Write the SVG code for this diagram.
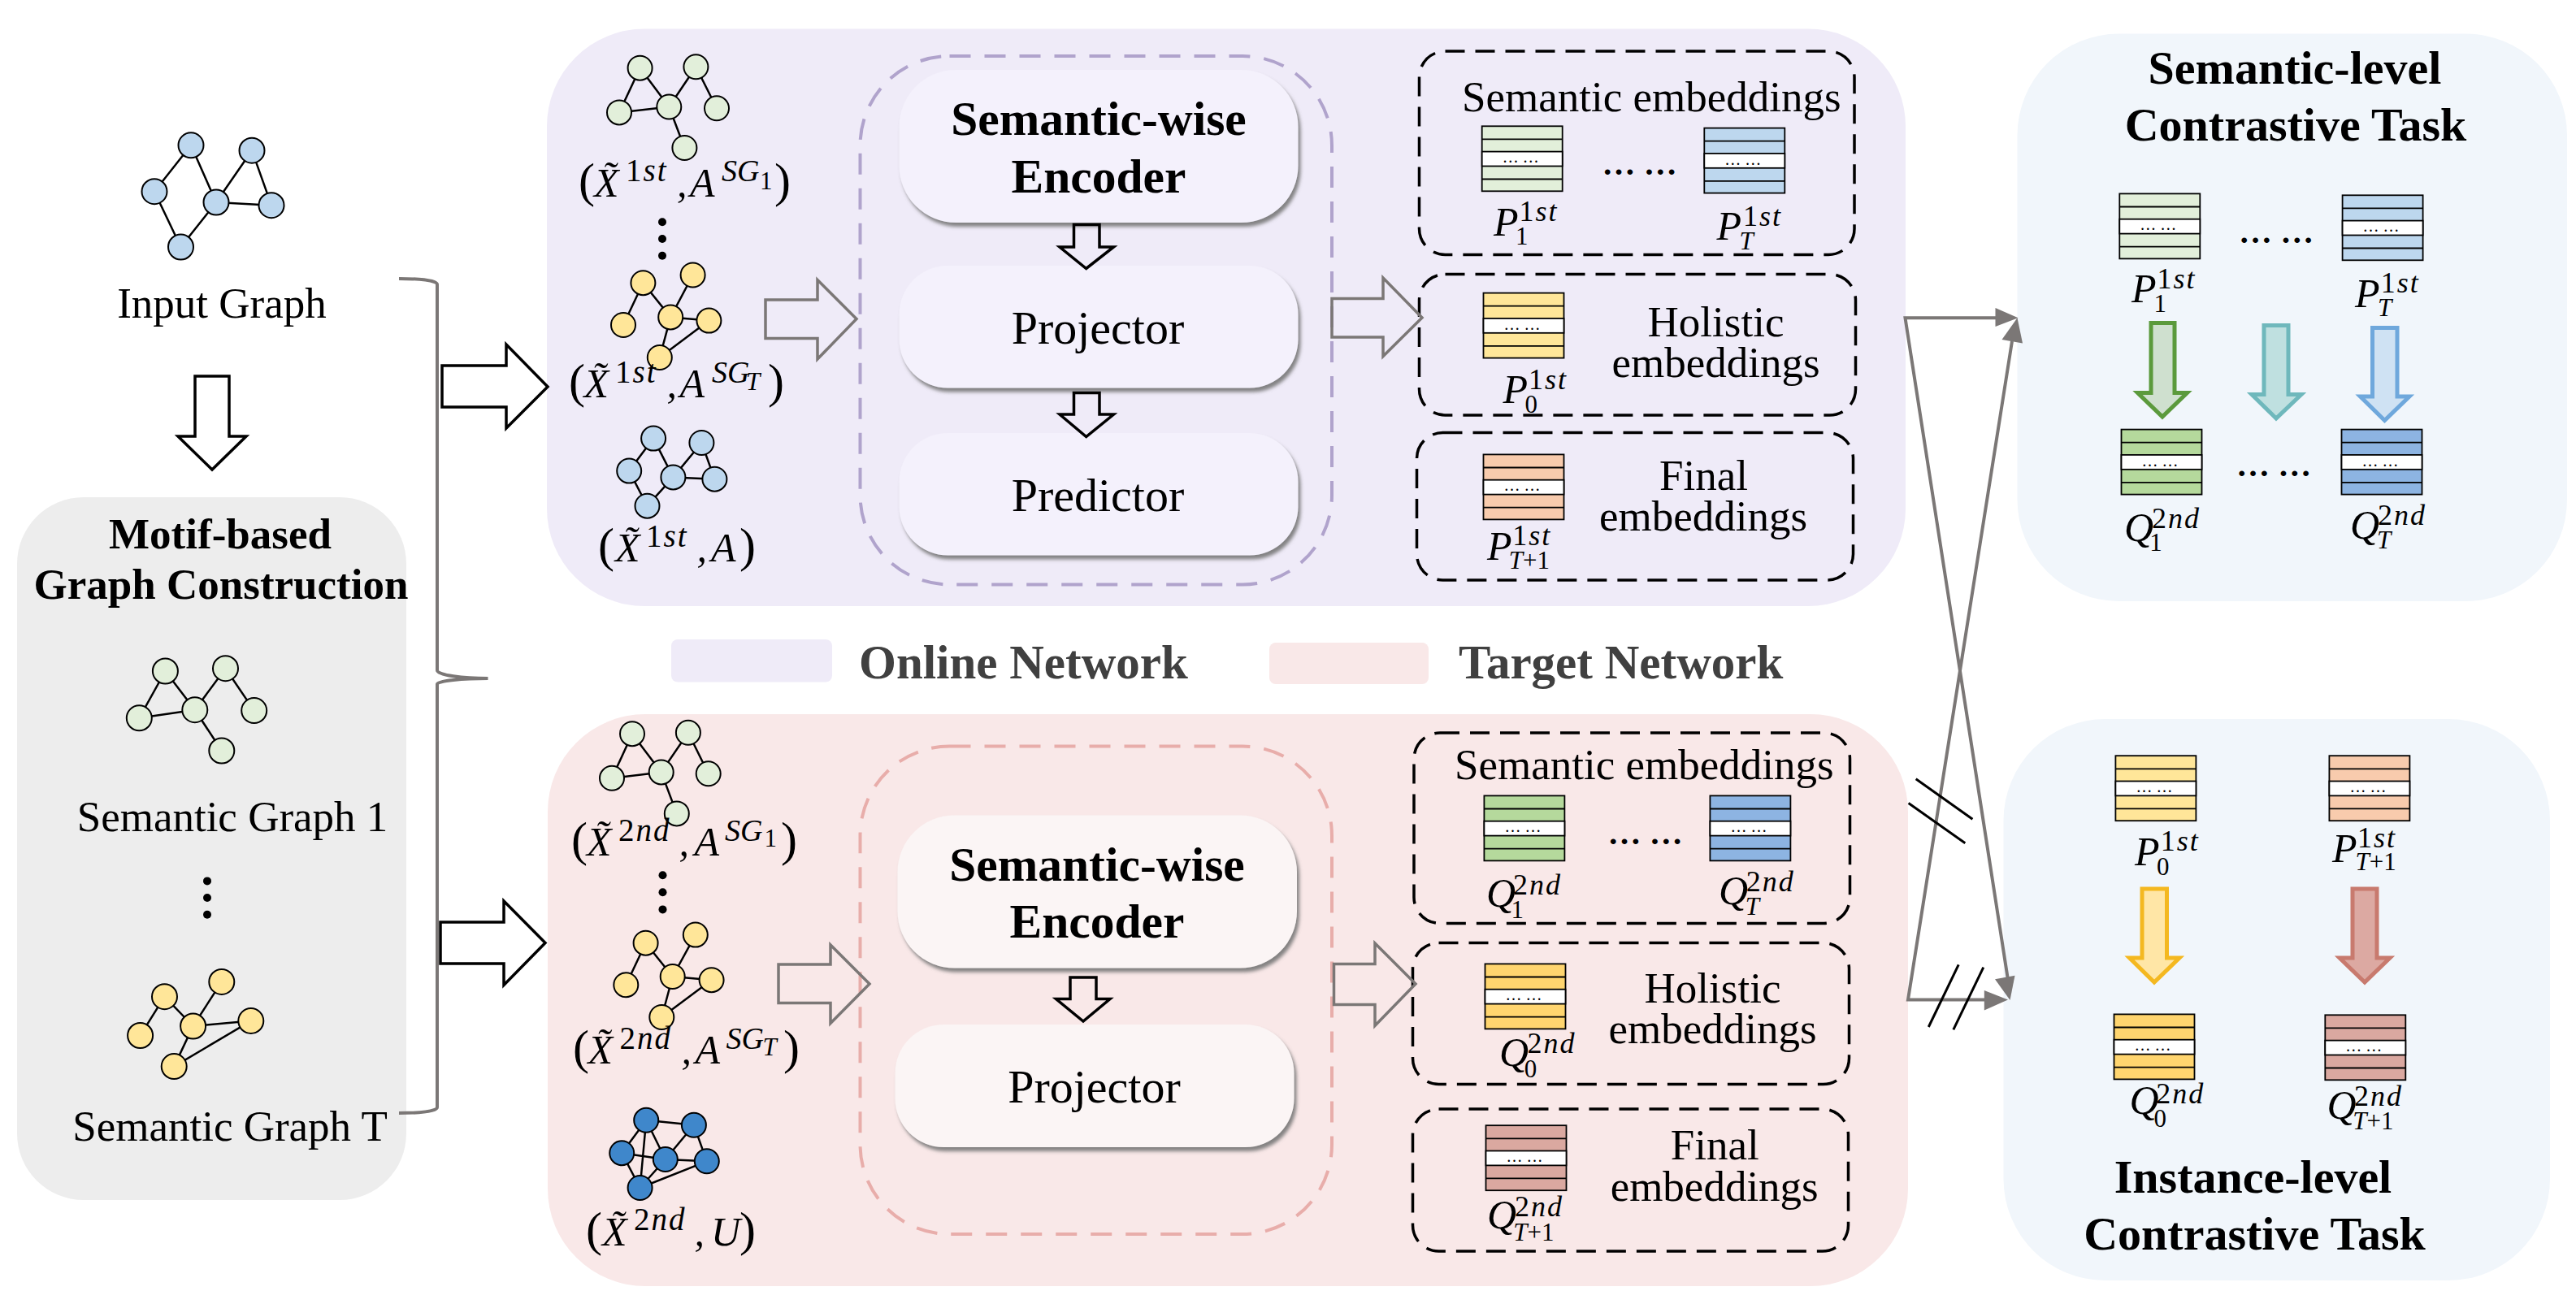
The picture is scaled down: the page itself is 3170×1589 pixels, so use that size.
<svg xmlns="http://www.w3.org/2000/svg" xmlns:xlink="http://www.w3.org/1999/xlink" width="3170" height="1589" viewBox="0 0 3170 1589">
<style>
text{font-family:"Liberation Serif","Times New Roman",serif;fill:#000}
.t{font-size:53px}
.c{text-anchor:middle}
.b{font-weight:700}
.h{font-size:59.5px}
.p{font-size:58px}
.leg{font-size:59px;font-weight:700;fill:#404040}
.m{font-size:50px;font-style:italic}
.par{font-size:60px;font-style:normal}
.sl{font-size:39px;letter-spacing:2px}
.sg{font-size:38px}
.sp{font-size:36px;letter-spacing:2px}
.sb{font-size:31px}
.u{font-style:normal}
.dots{font-size:41px;font-weight:700}
.edge{fill:none;stroke:#000;stroke-width:2.5}
.n{stroke:#000;stroke-width:2}
.gg{fill:#e2efda}.gb{fill:#bdd7ee}.gy{fill:#ffe699}.gd{fill:#3f87cb}
.dash-k{fill:none;stroke:#000;stroke-width:3.5;stroke-dasharray:24 13}
.dash-v{fill:none;stroke:#b0a3cc;stroke-width:4;stroke-dasharray:26 17}
.dash-r{fill:none;stroke:#e8adaa;stroke-width:4;stroke-dasharray:26 17}
.wa{fill:#fff;stroke:#000;stroke-width:3.5}
.ha{fill:none;stroke:#000;stroke-width:3.5}
.ga{fill:none;stroke:#7b7776;stroke-width:3.5}
.conn{fill:none;stroke:#7b7776;stroke-width:4}
.head{fill:#7b7776;stroke:none}
.bar{stroke:#000;stroke-width:3;fill:none}
.mx rect,.mx path{stroke:#000;stroke-width:1.8}
.mw{fill:#fff}
.mt{font-size:20px}
</style>
<defs>
<filter id="lift" x="-5%" y="-5%" width="112%" height="115%">
<feDropShadow dx="3" dy="5" stdDeviation="2" flood-color="#777" flood-opacity="0.9"/>
</filter>
<!-- embedding matrix: five rows, the middle one elided -->
<g id="mx" class="mx">
<rect width="99" height="80"/>
<rect class="mw" y="31.3" width="99" height="17.9"/>
<path d="M0 16.1H99M0 65.2H99" fill="none"/>
<text class="mt" x="25" y="45">… …</text>
</g>
</defs>

<rect width="3170" height="1589" fill="#fff"/>

<!-- coloured panels -->
<g id="panels">
<rect id="panel-motif" x="21" y="612" width="479" height="865" rx="82" fill="#ededed"/>
<rect id="panel-online" x="673" y="35.5" width="1672" height="710.5" rx="120" fill="#efebf8"/>
<rect id="panel-target" x="674" y="879" width="1674" height="704" rx="120" fill="#f9e8e8"/>
<rect id="panel-semantic" x="2482.5" y="41.5" width="676.5" height="698.5" rx="125" fill="#f1f6fb"/>
<rect id="panel-instance" x="2465.5" y="885" width="672.5" height="691" rx="125" fill="#f1f6fb"/>
</g>

<g id="input-graph">
<path class="edge" d="M235 178.8L190 235.7M235 178.8L266 249M310 185.2L266 249M310 185.2L334 252.7M266 249L334 252.7M190 235.7L222.5 304M266 249L222.5 304"/>
<g class="n gb"><circle cx="235" cy="178.8" r="15.5"/><circle cx="310" cy="185.2" r="15.5"/><circle cx="190" cy="235.7" r="15.5"/><circle cx="266" cy="249" r="15.5"/><circle cx="334" cy="252.7" r="15.5"/><circle cx="222.5" cy="304" r="15.5"/></g>
<text class="t c" x="273" y="391">Input Graph</text>
</g>

<g id="motif-construction">
<text class="t b c" x="271" y="674.5">Motif-based</text>
<text class="t b c" x="272" y="736.5">Graph Construction</text>
<path class="edge" d="M203.4 826L171.3 883.8M203.4 826L239.8 873.7M171.3 883.8L239.8 873.7M277.5 822.7L239.8 873.7M277.5 822.7L312.7 874.6M239.8 873.7L272.8 924"/>
<g class="n gg"><circle cx="203.4" cy="826" r="15.5"/><circle cx="277.5" cy="822.7" r="15.5"/><circle cx="171.3" cy="883.8" r="15.5"/><circle cx="239.8" cy="873.7" r="15.5"/><circle cx="312.7" cy="874.6" r="15.5"/><circle cx="272.8" cy="924" r="15.5"/></g>
<text class="t c" x="286" y="1022.5">Semantic Graph 1</text>
<g fill="#000"><circle cx="255" cy="1084.4" r="5"/><circle cx="255" cy="1105" r="5"/><circle cx="255" cy="1125.7" r="5"/></g>
<path class="edge" d="M202.5 1226.7L172.6 1274.5M202.5 1226.7L237.6 1263M272.8 1208.4L237.6 1263M237.6 1263L308.8 1256.6M237.6 1263L214.2 1312.6M214.2 1312.6L308.8 1256.6"/>
<g class="n gy"><circle cx="202.5" cy="1226.7" r="15.5"/><circle cx="272.8" cy="1208.4" r="15.5"/><circle cx="172.6" cy="1274.5" r="15.5"/><circle cx="237.6" cy="1263" r="15.5"/><circle cx="308.8" cy="1256.6" r="15.5"/><circle cx="214.2" cy="1312.6" r="15.5"/></g>
<text class="t c" x="283" y="1403.5">Semantic Graph T</text>
</g>

<!-- online branch -->
<g id="online-views">
<path class="edge" d="M787.6 83.7L762 138.4M787.6 83.7L823.3 131.5M762 138.4L823.3 131.5M856.4 82.3L823.3 131.5M856.4 82.3L882 133.3M823.3 131.5L842.4 182"/>
<g class="n gg"><circle cx="787.6" cy="83.7" r="15"/><circle cx="856.4" cy="82.3" r="15"/><circle cx="762" cy="138.4" r="15"/><circle cx="823.3" cy="131.5" r="15"/><circle cx="882" cy="133.3" r="15"/><circle cx="842.4" cy="182" r="15"/></g>
<text class="m"><tspan class="par" x="712" y="242">(</tspan><tspan x="731" y="242">X̃</tspan><tspan class="sl" x="770" y="223"><tspan class="u">1</tspan>st</tspan><tspan x="833" y="242">,</tspan><tspan x="849" y="242">A</tspan><tspan class="sg" x="888" y="223">SG</tspan><tspan class="sb u" x="935" y="233">1</tspan><tspan class="par" x="953" y="242">)</tspan></text>
<g fill="#000"><circle cx="815" cy="273.3" r="5"/><circle cx="815" cy="294" r="5"/><circle cx="815" cy="314.7" r="5"/></g>
<path class="edge" d="M791.4 348.2L767 400M791.4 348.2L825.2 390.4M852.6 338.5L825.2 390.4M825.2 390.4L872.4 394.6M825.2 390.4L811.8 440M811.8 440L872.4 394.6"/>
<g class="n gy"><circle cx="791.4" cy="348.2" r="15"/><circle cx="852.6" cy="338.5" r="15"/><circle cx="767" cy="400" r="15"/><circle cx="825.2" cy="390.4" r="15"/><circle cx="872.4" cy="394.6" r="15"/><circle cx="811.8" cy="440" r="15"/></g>
<text class="m"><tspan class="par" x="700" y="489">(</tspan><tspan x="718.5" y="489">X̃</tspan><tspan class="sl" x="757" y="470.5"><tspan class="u">1</tspan>st</tspan><tspan x="820.5" y="489">,</tspan><tspan x="836.5" y="489">A</tspan><tspan class="sg" x="876" y="470.5">SG</tspan><tspan class="sb" x="918" y="480">T</tspan><tspan class="par" x="945" y="489">)</tspan></text>
<path class="edge" d="M804.1 539.6L774.2 579.6M804.1 539.6L828.4 587.4M863.4 545L828.4 587.4M863.4 545L879.4 589.7M828.4 587.4L879.4 589.7M774.2 579.6L796.5 622.7M828.4 587.4L796.5 622.7"/>
<g class="n gb"><circle cx="804.1" cy="539.6" r="15"/><circle cx="863.4" cy="545" r="15"/><circle cx="774.2" cy="579.6" r="15"/><circle cx="828.4" cy="587.4" r="15"/><circle cx="879.4" cy="589.7" r="15"/><circle cx="796.5" cy="622.7" r="15"/></g>
<text class="m"><tspan class="par" x="736" y="691">(</tspan><tspan x="757" y="691">X̃</tspan><tspan class="sl" x="795" y="672.5"><tspan class="u">1</tspan>st</tspan><tspan x="857.5" y="691">,</tspan><tspan x="875" y="691">A</tspan><tspan class="par" x="910" y="691">)</tspan></text>
</g>

<g id="online-network">
<rect class="dash-v" x="1058.5" y="69" width="580.5" height="650.5" rx="110"/>
<g id="online-encoder"><rect x="1106.5" y="86" width="491" height="188" rx="70" fill="#f4f1fc" filter="url(#lift)"/>
<text class="h b c" x="1352" y="165.5">Semantic-wise</text><text class="h b c" x="1352" y="236.5">Encoder</text></g>
<g id="online-projector"><rect x="1106.5" y="327" width="491" height="150.5" rx="60" fill="#f4f1fc" filter="url(#lift)"/>
<text class="p c" x="1351" y="422.5">Projector</text></g>
<g id="online-predictor"><rect x="1106.5" y="533" width="491" height="150.5" rx="60" fill="#f4f1fc" filter="url(#lift)"/>
<text class="p c" x="1351" y="629">Predictor</text></g>
</g>

<g id="online-embeddings">
<rect class="dash-k" x="1746.5" y="63" width="535.5" height="250.5" rx="32"/>
<rect class="dash-k" x="1746.5" y="337.5" width="537" height="173.5" rx="32"/>
<rect class="dash-k" x="1743.5" y="532.5" width="537" height="181.5" rx="32"/>
<text class="t" x="1799" y="136.5">Semantic embeddings</text>
<use xlink:href="#mx" href="#mx" class="gg" transform="translate(1823.7 155.3)"/>
<use xlink:href="#mx" href="#mx" class="gb" transform="translate(2097.3 157.6)"/>
<text class="dots" x="1971.5" y="215">… …</text>
<text class="m"><tspan x="1838" y="290.3">P</tspan><tspan class="sp" x="1869.6" y="272.4"><tspan class="u">1</tspan>st</tspan><tspan class="sb u" x="1865" y="301">1</tspan></text>
<text class="m"><tspan x="2112.5" y="295.4">P</tspan><tspan class="sp" x="2145" y="278"><tspan class="u">1</tspan>st</tspan><tspan class="sb" x="2140.5" y="306.8">T</tspan></text>
<use xlink:href="#mx" href="#mx" style="fill:#ffe699" transform="translate(1825.5 360.6)"/>
<text class="m"><tspan x="1849.5" y="496">P</tspan><tspan class="sp" x="1881" y="478.6"><tspan class="u">1</tspan>st</tspan><tspan class="sb u" x="1876.4" y="507.5">0</tspan></text>
<text class="t c" x="2111.5" y="414">Holistic</text><text class="t c" x="2111.5" y="463.5">embeddings</text>
<use xlink:href="#mx" href="#mx" style="fill:#f8cbad" transform="translate(1825.5 559.4)"/>
<text class="m"><tspan x="1830" y="689">P</tspan><tspan class="sp" x="1861.3" y="671.4"><tspan class="u">1</tspan>st</tspan><tspan class="sb" x="1856.7" y="700.3">T<tspan class="u">+1</tspan></tspan></text>
<text class="t c" x="2096.5" y="603">Final</text><text class="t c" x="2096" y="652.5">embeddings</text>
</g>

<!-- legend -->
<g id="legend">
<rect x="826" y="787" width="198" height="52.5" rx="8" fill="#efebf8"/>
<text class="leg" x="1057" y="834.5">Online Network</text>
<rect x="1562" y="791" width="196" height="51" rx="8" fill="#f9e8e8"/>
<text class="leg" x="1795" y="835">Target Network</text>
</g>

<!-- target branch -->
<g id="target-views">
<path class="edge" d="M778 903.2L753 957.8M778 903.2L813.7 950.4M753 957.8L813.7 950.4M846.9 901.8L813.7 950.4M846.9 901.8L871.7 952.3M813.7 950.4L832.8 1001.4"/>
<g class="n gg"><circle cx="778" cy="903.2" r="15"/><circle cx="846.9" cy="901.8" r="15"/><circle cx="753" cy="957.8" r="15"/><circle cx="813.7" cy="950.4" r="15"/><circle cx="871.7" cy="952.3" r="15"/><circle cx="832.8" cy="1001.4" r="15"/></g>
<text class="m"><tspan class="par" x="703" y="1052.8">(</tspan><tspan x="722" y="1052.8">X̃</tspan><tspan class="sl" x="761" y="1034.5"><tspan class="u">2</tspan>nd</tspan><tspan x="835.5" y="1052.8">,</tspan><tspan x="854.5" y="1052.8">A</tspan><tspan class="sg" x="892" y="1034.5">SG</tspan><tspan class="sb u" x="940.5" y="1042">1</tspan><tspan class="par" x="961" y="1052.8">)</tspan></text>
<g fill="#000"><circle cx="815.5" cy="1077.2" r="5"/><circle cx="815.5" cy="1098.3" r="5"/><circle cx="815.5" cy="1119.4" r="5"/></g>
<path class="edge" d="M794.6 1160.7L770.3 1212.2M794.6 1160.7L827.7 1202M855.8 1150.6L827.7 1202M827.7 1202L875.6 1206.2M827.7 1202L814.3 1252M814.3 1252L875.6 1206.2"/>
<g class="n gy"><circle cx="794.6" cy="1160.7" r="15"/><circle cx="855.8" cy="1150.6" r="15"/><circle cx="770.3" cy="1212.2" r="15"/><circle cx="827.7" cy="1202" r="15"/><circle cx="875.6" cy="1206.2" r="15"/><circle cx="814.3" cy="1252" r="15"/></g>
<text class="m"><tspan class="par" x="705" y="1309">(</tspan><tspan x="723.5" y="1309">X̃</tspan><tspan class="sl" x="762.5" y="1290.7"><tspan class="u">2</tspan>nd</tspan><tspan x="838.5" y="1309">,</tspan><tspan x="855.5" y="1309">A</tspan><tspan class="sg" x="893.5" y="1290.7">SG</tspan><tspan class="sb" x="938.5" y="1298.5">T</tspan><tspan class="par" x="964" y="1309">)</tspan></text>
<path class="edge" d="M795.2 1378.8L853.9 1384.8M795.2 1378.8L765.2 1419.2M795.2 1378.8L818.8 1427M795.2 1378.8L787.6 1462M853.9 1384.8L818.8 1427M853.9 1384.8L869.8 1429.3M765.2 1419.2L818.8 1427M765.2 1419.2L787.6 1462M818.8 1427L869.8 1429.3M818.8 1427L787.6 1462M869.8 1429.3L787.6 1462"/>
<g class="n gd"><circle cx="795.2" cy="1378.8" r="15"/><circle cx="853.9" cy="1384.8" r="15"/><circle cx="765.2" cy="1419.2" r="15"/><circle cx="818.8" cy="1427" r="15"/><circle cx="869.8" cy="1429.3" r="15"/><circle cx="787.6" cy="1462" r="15"/></g>
<text class="m"><tspan class="par" x="721" y="1532.5">(</tspan><tspan x="741" y="1532.5">X̃</tspan><tspan class="sl" x="780" y="1514"><tspan class="u">2</tspan>nd</tspan><tspan x="854.5" y="1532.5">,</tspan><tspan x="875" y="1532.5">U</tspan><tspan class="par" x="910" y="1532.5">)</tspan></text>
</g>

<g id="target-network">
<rect class="dash-r" x="1058.5" y="918.5" width="580.5" height="600.5" rx="110"/>
<g id="target-encoder"><rect x="1104.5" y="1003.5" width="491.5" height="188" rx="70" fill="#fbf5f5" filter="url(#lift)"/>
<text class="h b c" x="1350" y="1084">Semantic-wise</text><text class="h b c" x="1350" y="1154">Encoder</text></g>
<g id="target-projector"><rect x="1101.5" y="1261" width="491" height="151" rx="60" fill="#fbf5f5" filter="url(#lift)"/>
<text class="p c" x="1346.5" y="1357">Projector</text></g>
</g>

<g id="target-embeddings">
<rect class="dash-k" x="1740" y="902" width="536.5" height="234.5" rx="32"/>
<rect class="dash-k" x="1738.5" y="1160.5" width="537" height="174" rx="32"/>
<rect class="dash-k" x="1738.5" y="1365" width="536" height="175" rx="32"/>
<text class="t" x="1790" y="959">Semantic embeddings</text>
<use xlink:href="#mx" href="#mx" style="fill:#b5d99c" transform="translate(1826.4 979.4)"/>
<use xlink:href="#mx" href="#mx" style="fill:#8db4e2" transform="translate(2104.4 979.4)"/>
<text class="dots" x="1978.5" y="1039">… …</text>
<text class="m"><tspan x="1829" y="1115.7">Q</tspan><tspan class="sp" x="1862" y="1101"><tspan class="u">2</tspan>nd</tspan><tspan class="sb u" x="1859.6" y="1129.5">1</tspan></text>
<text class="m"><tspan x="2115" y="1112.5">Q</tspan><tspan class="sp" x="2148.8" y="1097"><tspan class="u">2</tspan>nd</tspan><tspan class="sb" x="2147.8" y="1126.3">T</tspan></text>
<use xlink:href="#mx" href="#mx" style="fill:#ffd56f" transform="translate(1827.5 1186.4)"/>
<text class="m"><tspan x="1845" y="1312">Q</tspan><tspan class="sp" x="1879.4" y="1296"><tspan class="u">2</tspan>nd</tspan><tspan class="sb u" x="1875.7" y="1326">0</tspan></text>
<text class="t c" x="2107.5" y="1233.5">Holistic</text><text class="t c" x="2107.5" y="1284">embeddings</text>
<use xlink:href="#mx" href="#mx" style="fill:#daa8a0" transform="translate(1828.5 1385.2)"/>
<text class="m"><tspan x="1830" y="1512">Q</tspan><tspan class="sp" x="1864" y="1497.3"><tspan class="u">2</tspan>nd</tspan><tspan class="sb" x="1862.3" y="1526.7">T<tspan class="u">+1</tspan></tspan></text>
<text class="t c" x="2110.3" y="1427">Final</text><text class="t c" x="2109.7" y="1477.5">embeddings</text>
</g>

<g id="semantic-task">
<text class="p b c" x="2824" y="103">Semantic-level</text>
<text class="p b c" x="2825" y="172.5">Contrastive Task</text>
<use xlink:href="#mx" href="#mx" class="gg" transform="translate(2608.3 238.4)"/>
<use xlink:href="#mx" href="#mx" class="gb" transform="translate(2882.6 240.3)"/>
<text class="dots" x="2755" y="298.5">… …</text>
<text class="m"><tspan x="2623" y="372">P</tspan><tspan class="sp" x="2654.4" y="355"><tspan class="u">1</tspan>st</tspan><tspan class="sb u" x="2650.6" y="383.5">1</tspan></text>
<text class="m"><tspan x="2898" y="377.6">P</tspan><tspan class="sp" x="2929.8" y="359.7"><tspan class="u">1</tspan>st</tspan><tspan class="sb" x="2926" y="389">T</tspan></text>
<path d="M2647 397.5H2676V483.5H2691.5L2661 513L2630.5 483.5H2647Z" fill="#cfe0cf" stroke="#5b9a3c" stroke-width="5"/>
<path d="M2786 400.5H2816V485.5H2832L2801 515L2771 485.5H2786Z" fill="#bfe0e0" stroke="#6fb8bc" stroke-width="5"/>
<path d="M2919.5 403.5H2950V488H2965L2934.5 517.5L2904.5 488H2919.5Z" fill="#cfe2f3" stroke="#6fa8dc" stroke-width="5"/>
<use xlink:href="#mx" href="#mx" style="fill:#b5d99c" transform="translate(2610.5 528.6)"/>
<use xlink:href="#mx" href="#mx" style="fill:#8db4e2" transform="translate(2881.5 528.6)"/>
<text class="dots" x="2752" y="586">… …</text>
<text class="m"><tspan x="2614" y="666">Q</tspan><tspan class="sp" x="2648" y="650"><tspan class="u">2</tspan>nd</tspan><tspan class="sb u" x="2645.2" y="678.3">1</tspan></text>
<text class="m"><tspan x="2892" y="662.7">Q</tspan><tspan class="sp" x="2926" y="646"><tspan class="u">2</tspan>nd</tspan><tspan class="sb" x="2925" y="675">T</tspan></text>
</g>

<g id="instance-task">
<use xlink:href="#mx" href="#mx" style="fill:#ffe699" transform="translate(2603.4 930.2)"/>
<use xlink:href="#mx" href="#mx" style="fill:#f8cbad" transform="translate(2866.4 930.2)"/>
<text class="m"><tspan x="2627" y="1065.2">P</tspan><tspan class="sp" x="2658.8" y="1047.3"><tspan class="u">1</tspan>st</tspan><tspan class="sb u" x="2654" y="1076.7">0</tspan></text>
<text class="m"><tspan x="2870" y="1060.6">P</tspan><tspan class="sp" x="2901" y="1042.7"><tspan class="u">1</tspan>st</tspan><tspan class="sb" x="2898.6" y="1071.2">T<tspan class="u">+1</tspan></tspan></text>
<path d="M2636 1094H2666.5V1179H2682L2651 1209L2620.5 1179H2636Z" fill="#ffe6a6" stroke="#f4b820" stroke-width="5"/>
<path d="M2895 1094H2925V1179H2941L2910 1209L2879 1179H2895Z" fill="#dca9a2" stroke="#c87a6e" stroke-width="5"/>
<use xlink:href="#mx" href="#mx" style="fill:#ffd56f" transform="translate(2601.5 1248.4)"/>
<use xlink:href="#mx" href="#mx" style="fill:#daa8a0" transform="translate(2861.3 1249.3)"/>
<text class="m"><tspan x="2620.5" y="1370.6">Q</tspan><tspan class="sp" x="2653.2" y="1358"><tspan class="u">2</tspan>nd</tspan><tspan class="sb u" x="2650.4" y="1387">0</tspan></text>
<text class="m"><tspan x="2863.5" y="1376.5">Q</tspan><tspan class="sp" x="2897" y="1361.4"><tspan class="u">2</tspan>nd</tspan><tspan class="sb" x="2895.3" y="1390.3">T<tspan class="u">+1</tspan></tspan></text>
<text class="p b c" x="2772.5" y="1468">Instance-level</text>
<text class="p b c" x="2774.5" y="1538">Contrastive Task</text>
</g>

<g id="connectors">
<!-- bracket gathering the input and semantic graphs -->
<path class="conn" d="M491 343C515 343 538 345 538 350V825C538 831 570 835 600.5 835C570 835 538 838 538 842V1363C538 1368 515 1370 491 1370"/>
<!-- hollow flow arrows -->
<path class="wa" d="M240 463H282V537H303L261 578L219 537H240Z"/>
<path class="wa" d="M544 450H623V424L674 476L623 527V501H544Z"/>
<path class="wa" d="M542 1135H620V1109L671 1160.5L620 1212.5V1186H542Z"/>
<path class="ha" d="M1321.5 276.5H1353V304H1370.5L1336.7 330.5L1304 304H1321.5Z"/>
<path class="ha" d="M1321.5 483.5H1353V510H1370.5L1336.7 537.5L1304 510H1321.5Z"/>
<path class="ha" d="M1317 1203H1349V1229.5H1366L1333 1257L1299.5 1229.5H1317Z"/>
<path class="ga" d="M942 369H1006V344.5L1054 392.5L1006 442V416.5H942Z"/>
<path class="ga" d="M1639 367.5H1702V342L1750 391L1702 438.5V415H1639Z"/>
<path class="ga" d="M958 1187H1022V1163L1070 1211L1022 1259.5V1234.5H958Z"/>
<path class="ga" d="M1641.5 1186.5H1692V1161L1742 1211L1692 1262.5V1236.5H1641.5Z"/>
<!-- crossing contrast links -->
<path class="conn" d="M2460 391.3H2344.5L2471 1206"/>
<path class="conn" d="M2445 1230.5H2348L2476 420"/>
<path class="head" d="M2483.5 391.3L2455.5 379V402Z"/>
<path class="head" d="M2482.5 391.3L2463.5 418L2489 422.5Z"/>
<path class="head" d="M2471 1230.5L2441.8 1219V1243.5Z"/>
<path class="head" d="M2473.5 1231L2455 1205.3L2479.5 1200.7Z"/>
<path class="bar" d="M2357.7 958.7L2427.4 1008.3M2348.6 988.6L2418.3 1037.7M2410.2 1187.4L2373.3 1264M2440.8 1190.6L2403.8 1267.3"/>
</g>
</svg>
